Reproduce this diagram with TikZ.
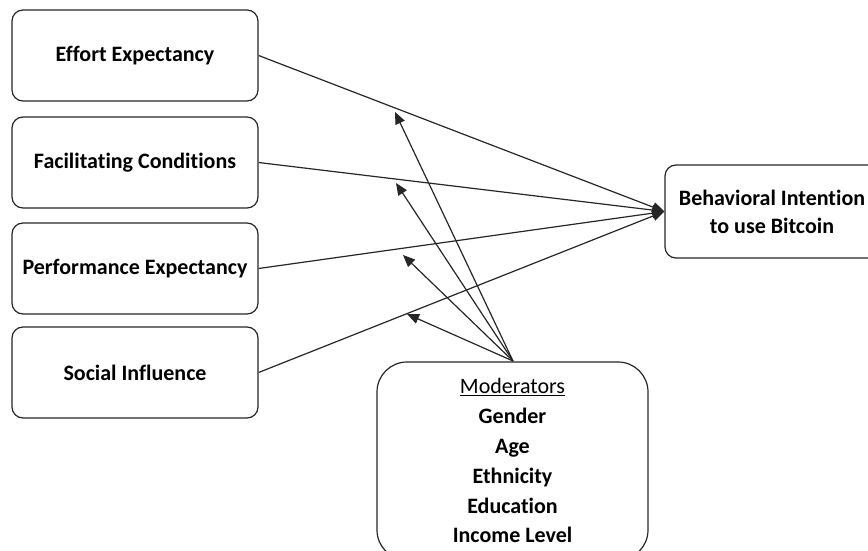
\documentclass[tikz,border=0pt]{standalone}
\usepackage{fontspec}
\setmainfont{Carlito}[Ligatures=NoCommon]
\usetikzlibrary{arrows.meta}
\begin{document}
\begin{tikzpicture}[x=1pt,y=-1pt,
  box/.style={draw=black!85,line width=1.2pt,rounded corners=11pt,minimum width=246pt,minimum height=91pt,inner sep=0pt,align=center,font=\fontsize{22}{28}\selectfont\bfseries},
  conn/.style={draw=black!85,line width=1.2pt},
  arr/.style={conn,-{Triangle[length=12pt,width=10pt]}}]
\useasboundingbox (0,0) rectangle (868,551);
\node[box] (ee) at (135,55.5) {Effort Expectancy};
\node[box] (fc) at (135,162.5) {Facilitating Conditions};
\node[box] (pe) at (135,268.5) {Performance Expectancy};
\node[box] (si) at (135,372.5) {Social Influence};
\node[box,minimum width=214pt,minimum height=93pt] (bi) at (772,211.5) {Behavioral Intention\\to use Bitcoin};
\node[box,minimum width=271pt,minimum height=198pt,rounded corners=30pt] (mod) at (512.5,461) {};
\node[align=center,font=\fontsize{22}{29.8}\selectfont\bfseries,anchor=north] (modtext) at (512.5,375) {\mdseries\underline{Moderators}\\Gender\\Age\\Ethnicity\\Education\\Income Level};
\coordinate (src) at (513,361);
\coordinate (t1) at (395,112);
\coordinate (t2) at (396,183);
\coordinate (t3) at (403,255);
\coordinate (t4) at (407,314);
\draw[arr] (ee.east) -- (bi.west);
\draw[arr] (fc.east) -- (bi.west);
\draw[arr] (pe.east) -- (bi.west);
\draw[arr] (si.east) -- (bi.west);
\draw[arr] (src) -- (t1);
\draw[arr] (src) -- (t2);
\draw[arr] (src) -- (t3);
\draw[arr] (src) -- (t4);
\end{tikzpicture}
\end{document}
